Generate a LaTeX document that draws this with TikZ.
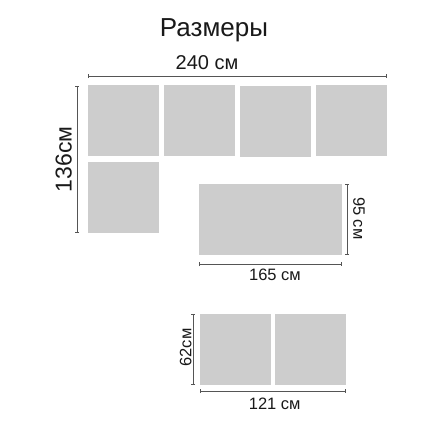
\documentclass[tikz,border=0pt]{standalone}
\usepackage{fontspec}
\setmainfont{Liberation Sans}
\usetikzlibrary{arrows.meta}
\definecolor{panelc}{RGB}{205,205,205}
\definecolor{dimc}{RGB}{85,85,85}
\begin{document}
\begin{tikzpicture}[x=1pt,y=-1pt,
  panel/.style={fill=panelc, draw=none, inner sep=0, outer sep=0, anchor=north west},
  sq/.style={panel, minimum width=71pt, minimum height=71pt},
  dimline/.style={draw=dimc, line width=0.8pt, {Bar[width=4pt,line width=0.8pt]}-{Bar[width=4pt,line width=0.8pt]}},
  lbl/.style={font=\fontsize{16.5}{18}\selectfont, text=black!90, inner sep=0, anchor=base},
  midlbl/.style={font=\fontsize{20}{22}\selectfont, text=black!90, inner sep=0, anchor=base},
  biglbl/.style={font=\fontsize{23}{25}\selectfont, text=black!90, inner sep=0, anchor=base},
  titlelbl/.style={font=\fontsize{26}{28}\selectfont, text=black!90, inner sep=0, anchor=base}]
\useasboundingbox (0,0) rectangle (440,440);
% panels
\node[sq] (p1) at (88,85) {};
\node[sq] (p2) at (164,85) {};
\node[sq] (p3) at (240,86) {};
\node[sq] (p4) at (316,85) {};
\node[sq] (p5) at (88,162) {};
\node[panel, minimum width=143pt, minimum height=71pt] (big) at (199,184) {};
\node[sq] (q1) at (200,314) {};
\node[sq] (q2) at (275,314) {};
% dimension line ends
\coordinate (ta) at (88,76);  \coordinate (tb) at (387,76);
\coordinate (la) at (77,86);  \coordinate (lb) at (77,233);
\coordinate (ra) at (347,184); \coordinate (rb) at (347,255);
\coordinate (ba) at (199,264); \coordinate (bb) at (342,264);
\coordinate (sa) at (193,314); \coordinate (sb) at (193,385);
\coordinate (ua) at (200,391); \coordinate (ub) at (346,391);
\draw[dimline] (ta) -- (tb);
\draw[dimline] (la) -- (lb);
\draw[dimline] (ra) -- (rb);
\draw[dimline] (ba) -- (bb);
\draw[dimline] (sa) -- (sb);
\draw[dimline] (ua) -- (ub);
% labels
\node[titlelbl] (title) at (214,36) {Размеры};
\node[midlbl] (w240) at (207,69) {240 см};
\node[biglbl, rotate=90] (h136) at (71.7,159.3) {136см};
\node[lbl, rotate=-90] (h95) at (353.3,218.3) {95 см};
\node[lbl] (w165) at (275,280) {165 см};
\node[lbl, rotate=90] (h62) at (191.3,347.5) {62см};
\node[lbl] (w121) at (274.7,409) {121 см};
\end{tikzpicture}
\end{document}
